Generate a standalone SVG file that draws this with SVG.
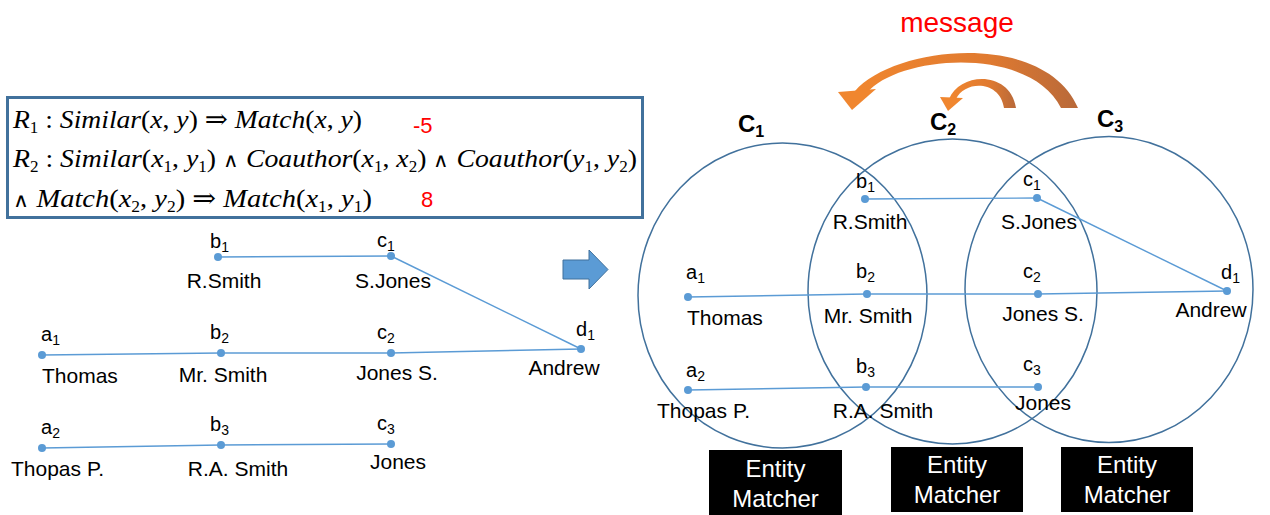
<svg xmlns="http://www.w3.org/2000/svg" width="1270" height="515" viewBox="0 0 1270 515">
<style>
.bg{fill:#ffffff}
.f{font-family:"Liberation Serif","Times New Roman","DejaVu Serif",serif;font-size:26px;fill:#000}
.i{font-style:italic}
.s{font-size:16px}
.w{font-family:"DejaVu Sans",sans-serif;font-weight:200;font-size:20px}
.red{font-family:"Liberation Sans",Arial,sans-serif;font-size:22px;fill:#ff0000}
.lbl{font-family:"Liberation Sans",Arial,sans-serif;font-size:20px;fill:#000}
.sb{font-size:14px}
.nm{font-family:"Liberation Sans",Arial,sans-serif;font-size:21px;fill:#000}
.mid{text-anchor:middle}
.dot{fill:#5B9BD5}
.edge{stroke:#5B9BD5;stroke-width:1.4;fill:none}
.circ{fill:none;stroke:#41719C;stroke-width:1.5}
.cl{font-family:"Liberation Sans",Arial,sans-serif;font-size:24px;font-weight:bold;fill:#000}
.cls{font-size:16px}
.box{fill:#000}
.em{font-family:"Liberation Sans",Arial,sans-serif;font-size:24px;fill:#fff;text-anchor:middle}
</style>
<defs>
<linearGradient id="og" x1="0" y1="0" x2="1" y2="0">
<stop offset="0" stop-color="#F0862F"/>
<stop offset="0.6" stop-color="#E07A30"/>
<stop offset="1" stop-color="#B8693A"/>
</linearGradient>
</defs>
<rect class="bg" x="0" y="0" width="1270" height="515"/>

<g id="formula">
<rect x="7.5" y="97.5" width="635" height="120" fill="#fff" stroke="#41719C" stroke-width="3"/>
<text class="f" x="13" y="128" textLength="349" lengthAdjust="spacingAndGlyphs"><tspan class="i">R</tspan><tspan class="s" dy="5">1</tspan><tspan dy="-5"> : </tspan><tspan class="i">Similar</tspan>(<tspan class="i">x</tspan>, <tspan class="i">y</tspan>) ⇒ <tspan class="i">Match</tspan>(<tspan class="i">x</tspan>, <tspan class="i">y</tspan>)</text>
<text class="f" x="13" y="167" textLength="624" lengthAdjust="spacingAndGlyphs"><tspan class="i">R</tspan><tspan class="s" dy="5">2</tspan><tspan dy="-5"> : </tspan><tspan class="i">Similar</tspan>(<tspan class="i">x</tspan><tspan class="s" dy="5">1</tspan><tspan dy="-5">, </tspan><tspan class="i">y</tspan><tspan class="s" dy="5">1</tspan><tspan dy="-5">) </tspan><tspan class="w">∧</tspan> <tspan class="i">Coauthor</tspan>(<tspan class="i">x</tspan><tspan class="s" dy="5">1</tspan><tspan dy="-5">, </tspan><tspan class="i">x</tspan><tspan class="s" dy="5">2</tspan><tspan dy="-5">) </tspan><tspan class="w">∧</tspan> <tspan class="i">Coauthor</tspan>(<tspan class="i">y</tspan><tspan class="s" dy="5">1</tspan><tspan dy="-5">, </tspan><tspan class="i">y</tspan><tspan class="s" dy="5">2</tspan><tspan dy="-5">)</tspan></text>
<text class="f" x="13" y="207" textLength="359" lengthAdjust="spacingAndGlyphs"><tspan class="w">∧</tspan> <tspan class="i">Match</tspan>(<tspan class="i">x</tspan><tspan class="s" dy="5">2</tspan><tspan dy="-5">, </tspan><tspan class="i">y</tspan><tspan class="s" dy="5">2</tspan><tspan dy="-5">) ⇒ </tspan><tspan class="i">Match</tspan>(<tspan class="i">x</tspan><tspan class="s" dy="5">1</tspan><tspan dy="-5">, </tspan><tspan class="i">y</tspan><tspan class="s" dy="5">1</tspan><tspan dy="-5">)</tspan></text>
<text class="red" x="413" y="133">-5</text>
<text class="red" x="421" y="207">8</text>
</g>

<g id="left-connectors">
<line class="edge" x1="218" y1="257" x2="391" y2="256"/>
<line class="edge" x1="391" y1="256" x2="581" y2="349"/>
<line class="edge" x1="42" y1="355" x2="221" y2="353"/>
<line class="edge" x1="221" y1="353" x2="391" y2="353"/>
<line class="edge" x1="391" y1="353" x2="581" y2="349"/>
<line class="edge" x1="42" y1="448" x2="221" y2="445"/>
<line class="edge" x1="221" y1="445" x2="391" y2="444"/>
</g>

<g id="L-b1"><circle class="dot" cx="218" cy="257" r="4"/><text class="lbl" x="210" y="248">b<tspan class="sb" dy="4">1</tspan></text><text class="nm mid" x="224" y="288">R.Smith</text></g>
<g id="L-c1"><circle class="dot" cx="391" cy="256" r="4"/><text class="lbl" x="377" y="247">c<tspan class="sb" dy="4">1</tspan></text><text class="nm mid" x="393" y="288">S.Jones</text></g>
<g id="L-a1"><circle class="dot" cx="42" cy="355" r="4"/><text class="lbl" x="41" y="341">a<tspan class="sb" dy="4">1</tspan></text><text class="nm" x="42" y="383">Thomas</text></g>
<g id="L-b2"><circle class="dot" cx="221" cy="353" r="4"/><text class="lbl" x="210" y="339">b<tspan class="sb" dy="4">2</tspan></text><text class="nm mid" x="223" y="382">Mr. Smith</text></g>
<g id="L-c2"><circle class="dot" cx="391" cy="353" r="4"/><text class="lbl" x="377" y="339">c<tspan class="sb" dy="4">2</tspan></text><text class="nm mid" x="397" y="380">Jones S.</text></g>
<g id="L-d1"><circle class="dot" cx="581" cy="349" r="4"/><text class="lbl" x="576" y="336">d<tspan class="sb" dy="4">1</tspan></text><text class="nm mid" x="564" y="375">Andrew</text></g>
<g id="L-a2"><circle class="dot" cx="42" cy="448" r="4"/><text class="lbl" x="41" y="434">a<tspan class="sb" dy="4">2</tspan></text><text class="nm" x="11" y="476">Thopas P.</text></g>
<g id="L-b3"><circle class="dot" cx="221" cy="445" r="4"/><text class="lbl" x="210" y="431">b<tspan class="sb" dy="4">3</tspan></text><text class="nm mid" x="238" y="476">R.A. Smith</text></g>
<g id="L-c3"><circle class="dot" cx="391" cy="444" r="4"/><text class="lbl" x="377" y="430">c<tspan class="sb" dy="4">3</tspan></text><text class="nm mid" x="398" y="469">Jones</text></g>

<g id="block-arrow">
<polygon points="563,260 589,260 589,250 608,269.5 589,289 589,279 563,279" fill="#5B9BD5" stroke="#41719C" stroke-width="1"/>
</g>

<g id="message">
<text x="957" y="32" text-anchor="middle" font-family="'Liberation Sans',Arial,sans-serif" font-size="28" fill="#ff0000">message</text>
<path d="M855,91 C895,45 1045,30 1078,108 L1061,108 C1030,45 898,55 867,93 Z" fill="url(#og)"/>
<polygon points="838,92 876,89 852,110" fill="#F0862F"/>
<path d="M949,99 C960,72 1010,70 1016,108 L1004,108 C1000,80 965,80 956,99 Z" fill="url(#og)"/>
<polygon points="940,97 963,98 948,111" fill="#F0862F"/>
</g>

<g id="clusters">
<g id="C1"><ellipse class="circ" cx="782.5" cy="295.5" rx="144.5" ry="152.5"/><text class="cl" x="738" y="132">C<tspan class="cls" dy="5">1</tspan></text></g>
<g id="C2"><ellipse class="circ" cx="952.5" cy="291.5" rx="144.5" ry="152.5"/><text class="cl" x="930" y="130">C<tspan class="cls" dy="5">2</tspan></text></g>
<g id="C3"><ellipse class="circ" cx="1109" cy="289.5" rx="144" ry="153"/><text class="cl" x="1097" y="127">C<tspan class="cls" dy="5">3</tspan></text></g>
</g>

<g id="right-connectors">
<line class="edge" x1="865" y1="199" x2="1037" y2="198"/>
<line class="edge" x1="1037" y1="198" x2="1227" y2="291"/>
<line class="edge" x1="688" y1="297" x2="867" y2="294"/>
<line class="edge" x1="867" y1="294" x2="1038" y2="294"/>
<line class="edge" x1="1038" y1="294" x2="1227" y2="291"/>
<line class="edge" x1="688" y1="390" x2="866" y2="387"/>
<line class="edge" x1="866" y1="387" x2="1038" y2="387"/>
</g>

<g id="R-b1"><circle class="dot" cx="865" cy="199" r="4"/><text class="lbl" x="856" y="188">b<tspan class="sb" dy="4">1</tspan></text><text class="nm mid" x="870" y="229">R.Smith</text></g>
<g id="R-c1"><circle class="dot" cx="1037" cy="198" r="4"/><text class="lbl" x="1023" y="186">c<tspan class="sb" dy="4">1</tspan></text><text class="nm mid" x="1039" y="229">S.Jones</text></g>
<g id="R-a1"><circle class="dot" cx="688" cy="297" r="4"/><text class="lbl" x="686" y="279">a<tspan class="sb" dy="4">1</tspan></text><text class="nm" x="687" y="325">Thomas</text></g>
<g id="R-b2"><circle class="dot" cx="867" cy="294" r="4"/><text class="lbl" x="856" y="278">b<tspan class="sb" dy="4">2</tspan></text><text class="nm mid" x="868" y="323">Mr. Smith</text></g>
<g id="R-c2"><circle class="dot" cx="1038" cy="294" r="4"/><text class="lbl" x="1023" y="278">c<tspan class="sb" dy="4">2</tspan></text><text class="nm mid" x="1043" y="321">Jones S.</text></g>
<g id="R-d1"><circle class="dot" cx="1227" cy="291" r="4"/><text class="lbl" x="1221" y="279">d<tspan class="sb" dy="4">1</tspan></text><text class="nm mid" x="1211" y="317">Andrew</text></g>
<g id="R-a2"><circle class="dot" cx="688" cy="390" r="4"/><text class="lbl" x="686" y="377">a<tspan class="sb" dy="4">2</tspan></text><text class="nm" x="657" y="418">Thopas P.</text></g>
<g id="R-b3"><circle class="dot" cx="866" cy="387" r="4"/><text class="lbl" x="856" y="373">b<tspan class="sb" dy="4">3</tspan></text><text class="nm mid" x="883" y="418">R.A. Smith</text></g>
<g id="R-c3"><circle class="dot" cx="1038" cy="387" r="4"/><text class="lbl" x="1023" y="371">c<tspan class="sb" dy="4">3</tspan></text><text class="nm mid" x="1043" y="410">Jones</text></g>

<g id="matcher1"><rect class="box" x="709" y="450" width="133" height="65"/><text class="em" x="775.5" y="477">Entity</text><text class="em" x="775.5" y="507">Matcher</text></g>
<g id="matcher2"><rect class="box" x="891" y="447" width="132" height="65"/><text class="em" x="957" y="473">Entity</text><text class="em" x="957" y="503">Matcher</text></g>
<g id="matcher3"><rect class="box" x="1061" y="447" width="132" height="65"/><text class="em" x="1127" y="473">Entity</text><text class="em" x="1127" y="503">Matcher</text></g>
</svg>
